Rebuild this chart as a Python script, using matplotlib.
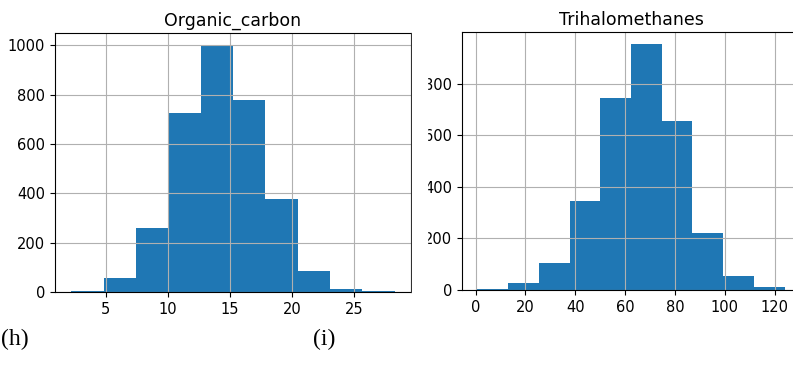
import numpy as np
import matplotlib.pyplot as plt
from matplotlib.patches import Rectangle

# histogram bins
oc_edges = [2.2, 4.81, 7.42, 10.03, 12.64, 15.25, 17.86, 20.47, 23.08, 25.69, 28.3]
oc_counts = [3, 55, 259, 726, 1000, 780, 377, 86, 14, 3]

thm_edges = [0.74, 13.07, 25.39, 37.72, 50.04, 62.37, 74.70, 87.02, 99.35, 111.67, 124.0]
thm_counts = [5, 27, 105, 347, 745, 954, 656, 223, 54, 12]

fig = plt.figure(figsize=(7.93, 3.67), dpi=100)
W, H = 793, 367

def px_axes(x0, y0, x1, y1):
  return fig.add_axes([x0 / W, 1 - y1 / H, (x1 - x0) / W, (y1 - y0) / H])

def draw_hist(ax, edges, counts, title):
  edges = np.array(edges)
  ax.hist(edges[:-1], bins=edges, weights=counts, color='#1f77b4')
  ax.grid(True)
  ax.set_title(title, fontsize=12.5, pad=5)
  ax.tick_params(labelsize=10.5)

ax1 = px_axes(55, 33, 411, 292)
draw_hist(ax1, oc_edges, oc_counts, 'Organic_carbon')
ax1.set_xticks([5, 10, 15, 20, 25])
ax1.set_yticks([0, 200, 400, 600, 800, 1000])

ax2 = px_axes(462, 32, 800, 290)
draw_hist(ax2, thm_edges, thm_counts, 'Trihalomethanes')
ax2.set_xticks([0, 20, 40, 60, 80, 100, 120])
ax2.set_yticks([0, 200, 400, 600, 800])

# the right panel was cropped in the source, hiding part of its y labels
fig.patches.append(Rectangle((412 / W, 0.15), (427 - 412) / W, 0.8,
                             transform=fig.transFigure, color='white', zorder=10))

fig.text(1 / W, 1 - 339 / H, '(h)', family='Liberation Serif', fontsize=17,
         ha='left', va='center')
fig.text(324 / W, 1 - 339 / H, '(i)', family='Liberation Serif', fontsize=17,
         ha='center', va='center')

fig.savefig('out.png', dpi=100)
